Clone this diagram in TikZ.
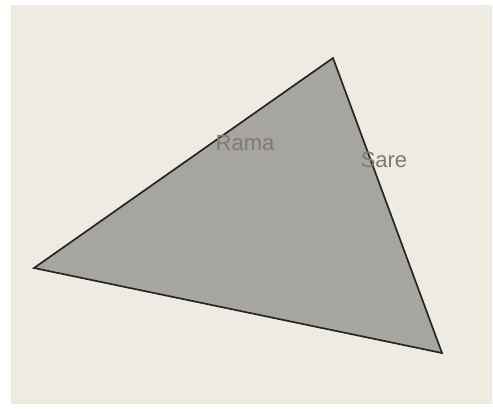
\documentclass[tikz,border=0pt]{standalone}
\usepackage{fontspec}
\setmainfont{Liberation Sans}
\definecolor{bgbeige}{HTML}{EEEBE3}
\definecolor{trifill}{HTML}{A7A5A0}
\definecolor{labelgray}{HTML}{7E7B74}
\definecolor{edgecol}{HTML}{252525}
\begin{document}
\begin{tikzpicture}[x=1pt,y=-1pt,
  lbl/.style={text=labelgray,font=\fontsize{22}{24}\selectfont,inner sep=0pt}]
\useasboundingbox (0,0) rectangle (493,408);
\fill[white] (0,0) rectangle (493,408);
\fill[bgbeige] (10.5,4.5) rectangle (491.5,404);
\coordinate (top) at (333,58);
\coordinate (left) at (34,268);
\coordinate (br) at (442,353);
\filldraw[fill=trifill,draw=edgecol,line width=1.7pt,line join=miter] (top) -- (left) -- (br) -- cycle;
\node[lbl] (rama) at (245,143) {Rama};
\node[lbl] (sare) at (384,160) {Sare};
\end{tikzpicture}
\end{document}
